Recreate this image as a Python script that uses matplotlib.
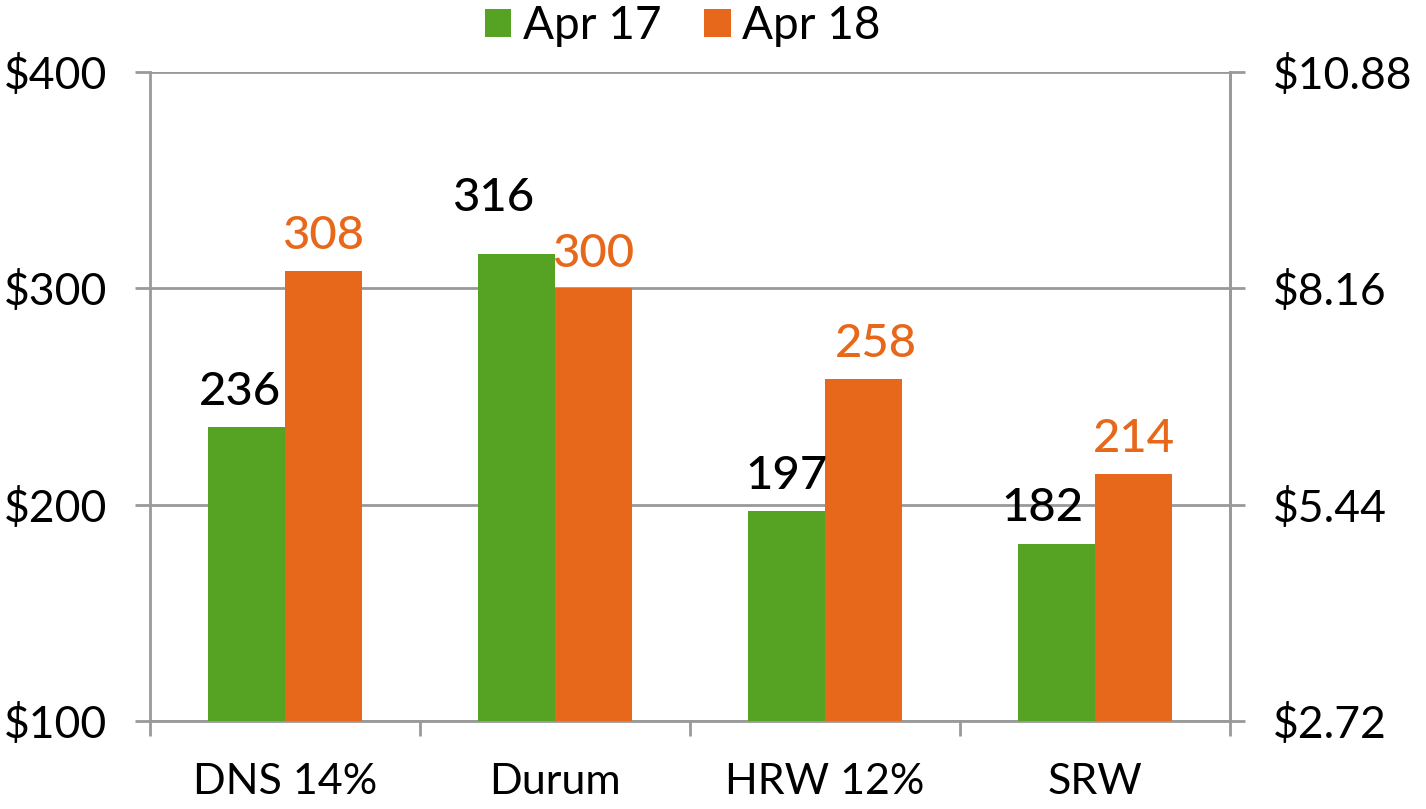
import matplotlib
matplotlib.use("Agg")
import matplotlib.pyplot as plt
import numpy as np

categories = ["DNS 14%", "Durum", "HRW 12%", "SRW"]
apr17 = [236, 316, 197, 182]
apr18 = [308, 300, 258, 214]
series_names = ["Apr 17", "Apr 18"]
left_ticks = [100, 200, 300, 400]
left_labels = ["$100", "$200", "$300", "$400"]
right_ticks = [2.72, 5.44, 8.16, 10.88]
right_labels = ["$2.72", "$5.44", "$8.16", "$10.88"]

GREEN = "#56A222"
ORANGE = "#E8681B"
GRAY = "#999999"

plt.rcParams["font.family"] = ["Lato", "DejaVu Sans"]

fig = plt.figure(figsize=(14.26, 8.09), dpi=100)
ax = fig.add_axes([0.1052, 0.1088, 0.7574, 0.8022])

x = np.arange(len(categories))
w = 0.285
b1 = ax.bar(x - w / 2, apr17, w, color=GREEN, label=series_names[0], zorder=3)
b2 = ax.bar(x + w / 2, apr18, w, color=ORANGE, label=series_names[1], zorder=3)

ax.set_xlim(-0.5, len(categories) - 0.5)
ax.set_ylim(100, 400)
ax.set_yticks(left_ticks)
ax.set_yticklabels(left_labels)
ax.grid(axis="y", color=GRAY, linewidth=2, zorder=1)
ax.set_axisbelow(True)

ax.spines["top"].set_visible(False)
for side in ["left", "right", "bottom"]:
    ax.spines[side].set_color(GRAY)
    ax.spines[side].set_linewidth(2)

ax.set_xticks(x)
ax.set_xticklabels(categories)
ax.tick_params(axis="x", length=0, labelsize=31, pad=30)
ax.set_xticks(np.arange(len(categories) + 1) - 0.5, minor=True)
ax.tick_params(axis="x", which="minor", length=11, width=2, color=GRAY, direction="out")
ax.tick_params(axis="y", length=11, width=2, color=GRAY, labelsize=32, pad=20)

ax2 = ax.twinx()
ax2.set_ylim(right_ticks[0], right_ticks[-1])
ax2.set_yticks(right_ticks)
ax2.set_yticklabels(right_labels)
ax2.tick_params(axis="y", length=11, width=2, color=GRAY, labelsize=32, pad=20)
for side in ["top", "left", "bottom"]:
    ax2.spines[side].set_visible(False)
ax2.spines["right"].set_color(GRAY)
ax2.spines["right"].set_linewidth(2)

# data labels (offsets in points: dx, dy from bar top to text baseline)
off17 = [(-5, 16), (-17, 31), (0, 16), (-10, 16)]
off18 = [(0, 16), (0, 15), (9, 16), (0, 16)]
for i, (bar, v) in enumerate(zip(b1, apr17)):
    ax.annotate(str(v), (bar.get_x() + bar.get_width() / 2, v),
                xytext=off17[i], textcoords="offset points",
                ha="center", va="baseline", fontsize=34, fontweight="medium", color="black")
for i, (bar, v) in enumerate(zip(b2, apr18)):
    ax.annotate(str(v), (bar.get_x() + bar.get_width() / 2, v),
                xytext=off18[i], textcoords="offset points",
                ha="center", va="baseline", fontsize=34, fontweight="medium", color=ORANGE)

fig.legend(handles=[b1, b2], labels=series_names, loc="center",
           bbox_to_anchor=(0.479, 0.968), ncol=2, frameon=False, fontsize=33,
           handlelength=0.57, handleheight=0.57, handletextpad=0.26,
           columnspacing=0.93, borderpad=0, borderaxespad=0)

fig.savefig("out.png", dpi=100)
